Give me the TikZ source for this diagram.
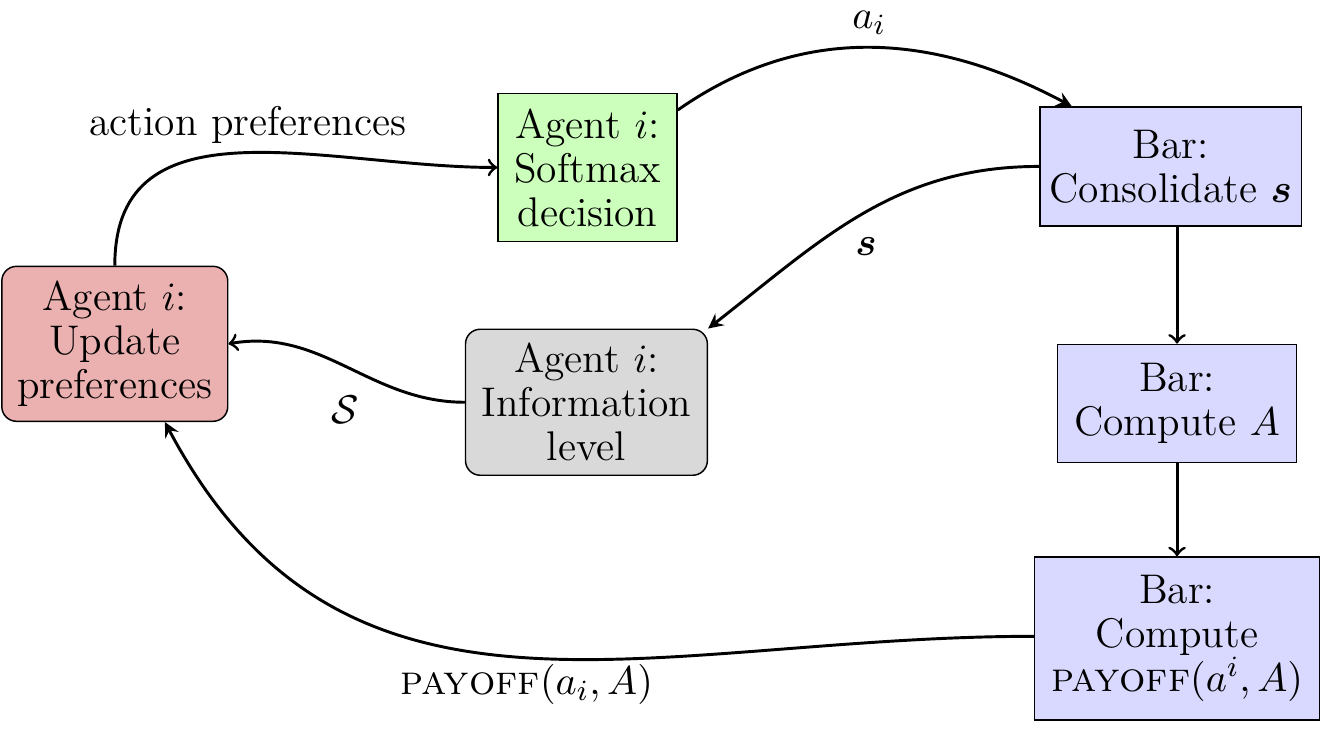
\documentclass[tikz,border=0pt]{standalone}
\usepackage{amsmath}
\usepackage{amssymb}
\usepackage{bm}
\usepackage{tikz}
\usetikzlibrary{arrows}

\definecolor{updred}{RGB}{235,176,176}
\definecolor{softgreen}{RGB}{204,255,187}
\definecolor{barblue}{RGB}{217,217,255}
\definecolor{infogray}{RGB}{217,217,217}

\tikzset{
	every node/.style={font=\fontsize{11.3pt}{12pt}\selectfont},
	agentbox/.style={draw, rounded corners=4pt, align=center, inner sep=2pt},
	barbox/.style={draw, fill=barblue, align=center, inner sep=2pt},
	flow/.style={->, thick},
	flowsharp/.style={-stealth, thick}
}

\begin{document}
\begin{tikzpicture}
	\useasboundingbox (0,0) rectangle (12.65,6.985);

	% Agent side
	\node[agentbox, fill=updred, minimum width=2.165cm, minimum height=1.485cm] (upd) at (1.10,3.69) {Agent $i$:\\Update\\preferences};
	\node[draw, fill=softgreen, align=center, inner sep=2pt, minimum width=1.715cm, minimum height=1.418cm] (soft) at (5.63,5.38) {Agent $i$:\\Softmax\\decision};
	\node[agentbox, fill=infogray, minimum width=2.318cm, minimum height=1.399cm] (info) at (5.62,3.13) {Agent $i$:\\Information\\level};

	% Bar side
	\node[barbox, minimum width=2.51cm, minimum height=1.14cm] (cons) at (11.22,5.39) {Bar:\\Consolidate $\bm{s}$};
	\node[barbox, minimum width=2.29cm, minimum height=1.13cm] (compA) at (11.28,3.12) {Bar:\\Compute $A$};
	\node[barbox, minimum width=2.73cm, minimum height=1.56cm] (pay) at (11.28,0.867) {Bar:\\Compute\\\textsc{payoff}$(a^i, A)$};

	% Connections
	\draw[flow] (upd.north) to[out=90,in=180,looseness=1.1] (soft.west);
	\draw[flowsharp] (soft.east) ++(0,0.55) to[out=35,in=152] ([xshift=-0.95cm]cons.north);
	\draw[flowsharp] (cons.west) to[out=180,in=38] (info.north east);
	\draw[flow] (info.west) to[out=180,in=10] (upd.east);
	\draw[flow] (compA.north |- cons.south) -- (compA.north);
	\draw[flow] (compA.south) -- (pay.north);
	\draw[flowsharp] (pay.west) ++(0,0.02) to[out=180,in=-62,looseness=1.1] ([xshift=0.48cm]upd.south);

	% Labels
	\node (lblpref) at (2.376,5.79) {action preferences};
	\node (lblact) at (8.33,6.77) {$a_i$};
	\node (lbls) at (8.30,4.62) {$\bm{s}$};
	\node (lblS) at (3.31,3.06) {$\mathcal{S}$};
	\node (lblpay) at (5.05,0.43) {\textsc{payoff}$(a_i, A)$};

\end{tikzpicture}
\end{document}
